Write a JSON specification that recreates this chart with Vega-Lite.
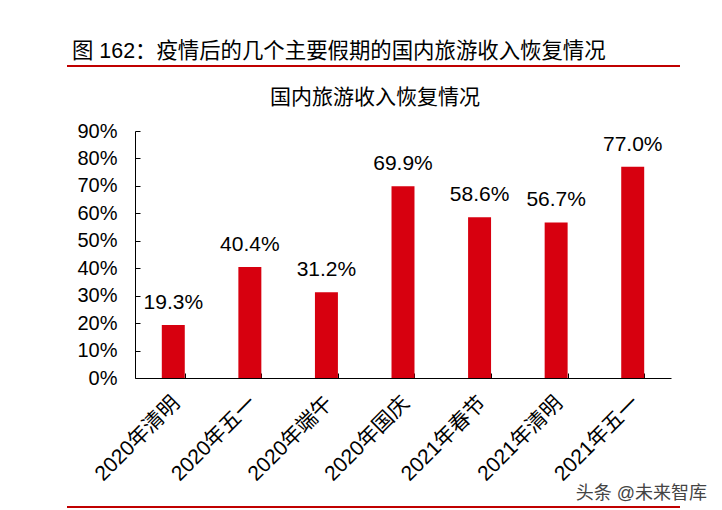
{
  "$schema": "https://vega.github.io/schema/vega-lite/v6.json",
  "background": "white",
  "padding": {"left": 66, "top": 40, "right": 0, "bottom": 0},
  "autosize": {"type": "pad"},
  "spacing": 0,
  "config": {
    "view": {"stroke": null},
    "font": "Liberation Sans, Noto Sans CJK SC",
    "title": {"font": "Liberation Sans, Noto Sans CJK SC", "fontWeight": "normal", "color": "#000000"}
  },
  "vconcat": [
    {
      "width": 613,
      "height": 21,
      "title": {"text": "图 162：疫情后的几个主要假期的国内旅游收入恢复情况", "anchor": "start", "fontSize": 21.4, "offset": 3, "dx": 6},
      "data": {"values": [{"v": 1}]},
      "mark": {"type": "rule", "color": "#C00000", "strokeWidth": 2},
      "encoding": {"y": {"field": "v", "type": "quantitative", "axis": null, "scale": {"domain": [0, 1]}}}
    },
    {
      "spacing": 0,
      "hconcat": [
        {
          "width": 1,
          "height": 247,
          "data": {"values": []},
          "mark": {"type": "rule"},
          "encoding": {}
        },
        {
          "width": 536,
          "height": 247,
          "title": {"text": "国内旅游收入恢复情况", "anchor": "middle", "fontSize": 21, "offset": 13, "dx": -28},
          "data": {
            "values": [
              {"holiday": "2020年清明", "rate": 0.193},
              {"holiday": "2020年五一", "rate": 0.404},
              {"holiday": "2020年端午", "rate": 0.312},
              {"holiday": "2020年国庆", "rate": 0.699},
              {"holiday": "2021年春节", "rate": 0.586},
              {"holiday": "2021年清明", "rate": 0.567},
              {"holiday": "2021年五一", "rate": 0.770}
            ]
          },
          "encoding": {
            "x": {
              "field": "holiday", "type": "nominal", "sort": null,
              "scale": {"paddingInner": 0.7, "paddingOuter": 0.35},
              "axis": {
                "title": null, "labelAngle": -45, "labelFontSize": 21, "labelColor": "#000000",
                "labelPadding": 19, "labelOffset": -5, "domainColor": "#000000", "domainWidth": 1,
                "tickColor": "#000000", "tickSize": -5, "tickBand": "extent", "grid": false
              }
            },
            "y": {
              "field": "rate", "type": "quantitative",
              "scale": {"domain": [0, 0.9], "nice": false},
              "axis": {
                "title": " ", "titleFontSize": 8, "titlePadding": 0,
                "values": [0, 0.1, 0.2, 0.3, 0.4, 0.5, 0.6, 0.7, 0.8, 0.9],
                "format": ".0%", "labelFontSize": 20, "labelColor": "#000000",
                "labelPadding": 23, "domainColor": "#000000", "domainWidth": 1,
                "tickColor": "#000000", "tickSize": -5, "grid": false
              }
            }
          },
          "layer": [
            {"mark": {"type": "bar", "color": "#D7000F"}},
            {
              "mark": {"type": "text", "dy": -16, "baseline": "alphabetic", "fontSize": 21, "color": "#000000"},
              "encoding": {"text": {"field": "rate", "type": "quantitative", "format": ".1%"}}
            }
          ]
        }
      ]
    },
    {
      "width": 613,
      "height": 1,
      "title": {"text": "头条 @未来智库", "anchor": "end", "fontSize": 18, "color": "#444444", "offset": 3, "dx": 26},
      "data": {"values": [{"v": 0}]},
      "mark": {"type": "rule", "color": "#C00000", "strokeWidth": 2},
      "encoding": {"y": {"field": "v", "type": "quantitative", "axis": null, "scale": {"domain": [0, 1]}}}
    }
  ]
}
